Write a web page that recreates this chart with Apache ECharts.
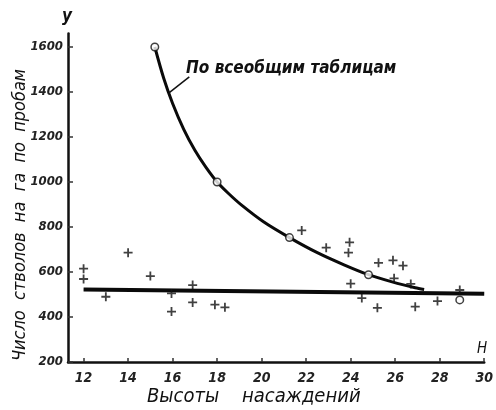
<!DOCTYPE html>
<html><head><meta charset="utf-8">
<script src="https://cdn.jsdelivr.net/npm/echarts@6/dist/echarts.min.js"></script>
<style>html,body{margin:0;padding:0;background:#fff}#c{width:496px;height:410px}</style>
</head><body><div id="c"></div>
<script>
// Curve "По всеобщим таблицам" (smooth line through these points)
const curveX = [15.2, 15.6, 16.0, 16.5, 17.0, 17.5, 18.0, 18.5, 19.1, 20.1, 21.25, 22.5, 23.7, 24.8, 25.9, 26.9, 27.3];
const curveY = [1600, 1461, 1349, 1234, 1141, 1065, 1000, 950, 897, 822, 753, 686, 632, 588, 555, 530, 522];
// Open circles
const circleX = [15.2, 18.0, 21.25, 24.8, 28.9];
const circleY = [1600, 1000, 753, 588, 476];
// Sample plots (crosses)
const crossX = [12.0, 12.0, 13.0, 14.0, 15.0, 15.95, 15.95, 16.9, 16.9, 17.9, 18.35, 21.8, 22.9, 23.95, 23.9, 24.0, 24.5, 25.2, 25.25, 25.9, 25.95, 26.35, 26.7, 26.9, 27.9, 28.9];
const crossY = [615, 569, 490, 686, 582, 505, 424, 542, 465, 455, 443, 785, 708, 732, 686, 548, 484, 441, 641, 652, 572, 628, 547, 446, 471, 520];
// Horizontal regression line
const lineX = [12, 30];
const lineY = [522, 503];
const xTicks = [12, 14, 16, 18, 20, 22, 24, 26, 28, 30];
const yTicks = [200, 400, 600, 800, 1000, 1200, 1400, 1600];

const toPairs = (xs, ys) => xs.map((x, i) => [x, ys[i]]);
const FONT = '"DejaVu Sans Condensed", "DejaVu Sans", sans-serif';
const chart = echarts.init(document.getElementById('c'), null, {renderer: 'canvas'});
const axisCommon = {
  axisLine: {show: true, lineStyle: {color: '#111', width: 2.5}},
  splitLine: {show: false},
  axisLabel: {color: '#222', fontFamily: FONT, fontStyle: 'italic', fontSize: 14, fontWeight: 'bold', formatter: v => String(v)}
};
chart.setOption({
  animation: false,
  backgroundColor: '#fff',
  grid: {left: 68, right: 7, top: 33.5, bottom: 48},
  xAxis: Object.assign({}, axisCommon, {
    type: 'value', min: 11.3, max: 30,
    axisTick: {show: true, inside: true, length: 4, lineStyle: {color: '#333', width: 1.5}, customValues: xTicks},
    axisLabel: Object.assign({}, axisCommon.axisLabel, {customValues: xTicks, margin: 9})
  }),
  yAxis: Object.assign({}, axisCommon, {
    type: 'value', min: 200, max: 1660,
    axisTick: {show: true, inside: true, length: 5, lineStyle: {color: '#333', width: 1.5}, customValues: yTicks},
    axisLabel: Object.assign({}, axisCommon.axisLabel, {customValues: yTicks, margin: 5, fontSize: 13})
  }),
  graphic: [
    {type: 'text', left: 186, top: 60, style: {text: 'По всеобщим таблицам', font: 'italic bold 17px ' + FONT, fill: '#111'}},
    {type: 'text', left: 62, top: 8, style: {text: 'y', font: 'italic bold 17px ' + FONT, fill: '#111'}},
    {type: 'text', left: 477, top: 342, style: {text: 'H', font: 'italic 15px ' + FONT, fill: '#111'}},
    {type: 'text', left: 147, top: 387, style: {text: 'Высоты    насаждений', font: 'italic 20px ' + FONT, fill: '#111'}},
    {type: 'text', x: 20, y: 215, rotation: Math.PI / 2, style: {text: 'Число  стволов  на  га  по  пробам', font: 'italic 18px ' + FONT, fill: '#111', align: 'center', verticalAlign: 'middle'}}
  ],
  series: [
    {type: 'line', data: toPairs(lineX, lineY), symbol: 'none', lineStyle: {color: '#0a0a0a', width: 4}, z: 2},
    {type: 'line', data: toPairs(curveX, curveY), smooth: 0.3, symbol: 'none', lineStyle: {color: '#0a0a0a', width: 3}, z: 2,
      markLine: {silent: true, symbol: 'none', lineStyle: {color: '#111', width: 1.5, type: 'solid'}, label: {show: false},
        data: [[{coord: [16.75, 1467]}, {coord: [15.85, 1397]}]]}},
    {type: 'scatter', data: toPairs(crossX, crossY), symbol: 'path://M4,0H6V4H10V6H6V10H4V6H0V4H4Z', symbolSize: 9, itemStyle: {color: '#111'}, z: 3},
    {type: 'scatter', data: toPairs(circleX, circleY), symbol: 'circle', symbolSize: 7.5, itemStyle: {color: '#fff', borderColor: '#111', borderWidth: 1.5}, z: 4}
  ]
});
</script></body></html>
